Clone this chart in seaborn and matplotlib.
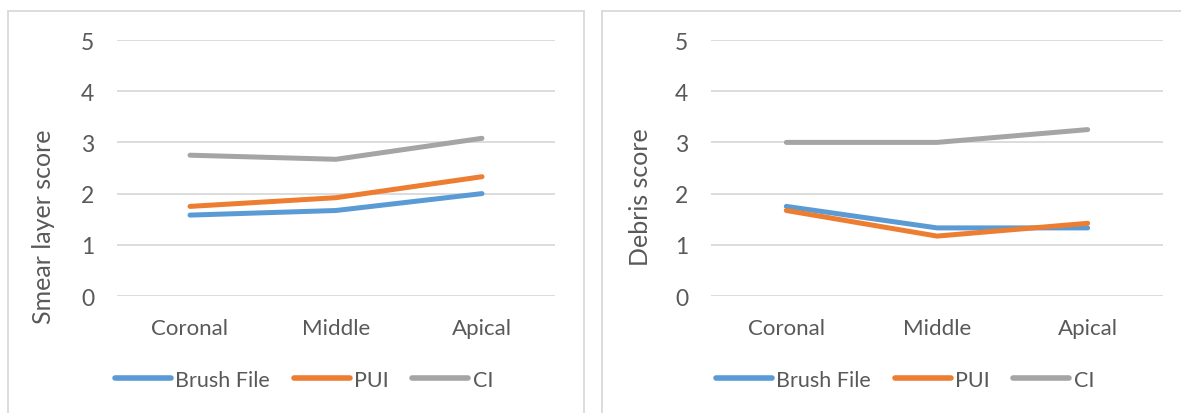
import matplotlib
matplotlib.use("Agg")
import matplotlib.pyplot as plt
from matplotlib.patches import Rectangle
import seaborn as sns
import pandas as pd

categories = ["Coronal", "Middle", "Apical"]
series_names = ["Brush File", "PUI", "CI"]
smear_brush = [1.58, 1.67, 2.00]
smear_pui = [1.75, 1.92, 2.33]
smear_ci = [2.75, 2.67, 3.08]
debris_brush = [1.75, 1.33, 1.33]
debris_pui = [1.67, 1.17, 1.42]
debris_ci = [3.00, 3.00, 3.25]
y_ticks = [0, 1, 2, 3, 4, 5]
colors = ["#5B9BD5", "#ED7D31", "#A5A5A5"]

sns.set_theme(style="white")
plt.rcParams["font.family"] = ["Lato", "DejaVu Sans"]

W, H = 1181, 414
fig = plt.figure(figsize=(W / 100, H / 100), dpi=100)
fig.patch.set_facecolor("white")


def make_df(vals):
    rows = []
    for name, v in zip(series_names, vals):
        for c, y in zip(categories, v):
            rows.append({"Section": c, "Score": y, "Series": name})
    return pd.DataFrame(rows)


def px_axes(x0, x1, ytop, ybot):
    return fig.add_axes([x0 / W, (H - ybot) / H, (x1 - x0) / W, (ybot - ytop) / H])


# panel borders
for (x0, x1) in [(8, 584), (602, 1190)]:
    fig.add_artist(Rectangle((x0 / W, -0.05), (x1 - x0) / W, (H - 12) / H + 0.05,
                             transform=fig.transFigure, fill=False,
                             edgecolor="#D9D9D9", linewidth=1.3))

panels = [
    ((117, 555), [smear_brush, smear_pui, smear_ci], "Smear layer score", 44, 227, 115),
    ((711, 1163), [debris_brush, debris_pui, debris_ci], "Debris score", 641, 197, 716),
]

for (x0, x1), vals, ylabel, ylab_x, ylab_y, leg_x in panels:
    ax = px_axes(x0, x1, 41, 297)
    df = make_df(vals)
    df["Section"] = pd.Categorical(df["Section"], categories=categories, ordered=True)
    df["pos"] = df["Section"].cat.codes
    sns.lineplot(data=df, x="pos", y="Score", hue="Series", hue_order=series_names,
                 palette=colors, linewidth=3.6, ax=ax, legend=False,
                 solid_capstyle="round")
    ax.set_xlim(-0.5, 2.5)
    ax.set_ylim(0, 5)
    ax.set_yticks(y_ticks)
    ax.set_yticklabels([str(t) for t in y_ticks])
    ax.set_xticks(range(len(categories)))
    ax.set_xticklabels(categories)
    ax.grid(axis="y", color="#D9D9D9", linewidth=1.3)
    ax.set_axisbelow(True)
    for s in ax.spines.values():
        s.set_visible(False)
    ax.tick_params(axis="y", length=0, pad=16.5, labelsize=16.5, labelcolor="#595959")
    ax.tick_params(axis="x", length=0, pad=16, labelsize=16, labelcolor="#595959")
    ax.set_xlabel("")
    ax.set_ylabel(ylabel, fontsize=18, color="#595959")
    ax.yaxis.set_label_coords((ylab_x - x0) / (x1 - x0), (297 - ylab_y) / 256)
    ax.yaxis.label.set_verticalalignment("center")
    handles = [plt.Line2D([0], [0], color=c, linewidth=4.0, solid_capstyle="round")
               for c in colors]
    ax.legend(handles, series_names, ncol=3, frameon=False,
              loc="center left", bbox_to_anchor=((leg_x - x0) / (x1 - x0), (297 - 381) / 256),
              handlelength=2.6, handletextpad=0.2, columnspacing=1.1,
              fontsize=15.5, labelcolor="#595959", borderaxespad=0, borderpad=0)

fig.savefig("out.png", dpi=100, facecolor="white")
